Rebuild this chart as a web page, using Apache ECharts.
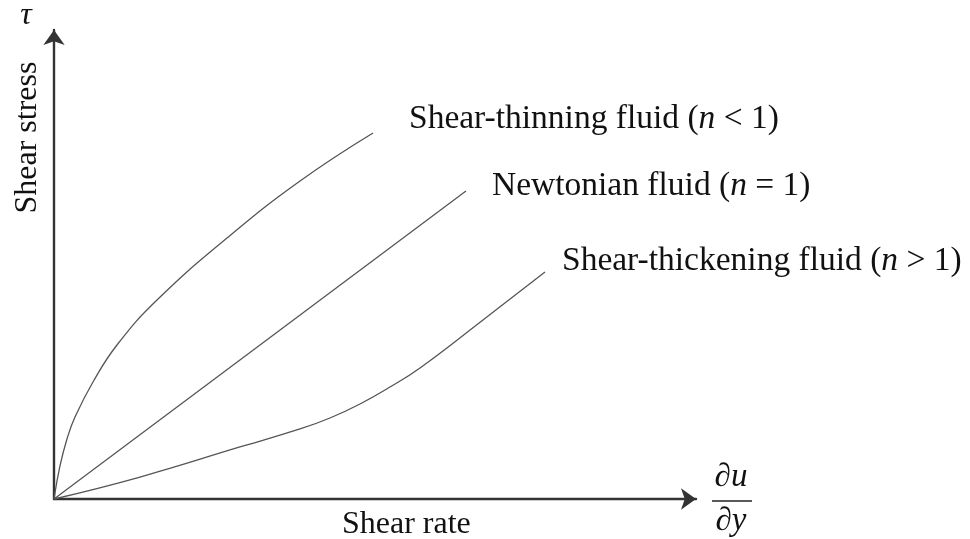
<!DOCTYPE html>
<html>
<head>
<meta charset="utf-8">
<script src="https://cdn.jsdelivr.net/npm/echarts@6/dist/echarts.min.js"></script>
<style>
html,body{margin:0;padding:0;background:#fff;}
#chart{width:970px;height:539px;}
</style>
</head>
<body>
<div id="chart"></div>
<script>
// Data (arbitrary units: shear rate 0..10, shear stress 0..10)
const shearThinningX = [0, 0.093, 0.202, 0.327, 0.607, 0.981, 1.604, 2.695, 3.832, 4.969];
const shearThinningY = [0, 0.704, 1.279, 1.748, 2.495, 3.284, 4.243, 5.565, 6.780, 7.804];
const newtonianX = [0, 6.417];
const newtonianY = [0, 6.567];
const shearThickeningX = [0, 1.340, 2.897, 3.832, 4.299, 4.766, 5.234, 5.701, 6.682, 7.648];
const shearThickeningY = [0, 0.469, 1.109, 1.493, 1.727, 2.026, 2.388, 2.793, 3.817, 4.840];
const seriesNames = ['Shear-thinning fluid', 'Newtonian fluid', 'Shear-thickening fluid'];
const nLabels = ['< 1', '= 1', '> 1'];
const xAxisName = 'Shear rate';
const yAxisName = 'Shear stress';

const zip = (xs, ys) => xs.map((x, i) => [x, ys[i]]);
const serif = '"Liberation Serif", "Times New Roman", serif';
const textColor = '#111';

const chart = echarts.init(document.getElementById('chart'), null, {renderer: 'canvas'});

function labelText(i, left, midY) {
  return {
    type: 'text',
    x: left, y: midY,
    style: {
      rich: {
        a: {fontFamily: serif, fontSize: 33.5, fill: textColor},
        i: {fontFamily: serif, fontSize: 33.5, fontStyle: 'italic', fill: textColor}
      },
      text: '{a|' + seriesNames[i] + ' (}{i|n}{a| ' + nLabels[i] + ')}',
      verticalAlign: 'middle',
      fill: textColor
    }
  };
}

const lineStyle = {color: '#555', width: 1.3};

chart.setOption({
  animation: false,
  backgroundColor: '#fff',
  grid: {left: 54, right: 274, top: 30, bottom: 40, containLabel: false},
  xAxis: {
    type: 'value', min: 0, max: 10,
    axisLine: {show: true, onZero: false, symbol: ['none', 'arrow'], symbolSize: [16, 15], lineStyle: {color: '#333', width: 2.4}},
    axisTick: {show: false}, axisLabel: {show: false}, splitLine: {show: false}
  },
  yAxis: {
    type: 'value', min: 0, max: 10,
    axisLine: {show: true, onZero: false, symbol: ['none', 'arrow'], symbolSize: [16, 15], lineStyle: {color: '#333', width: 2.4}},
    axisTick: {show: false}, axisLabel: {show: false}, splitLine: {show: false}
  },
  series: [
    {type: 'line', name: seriesNames[0], data: zip(shearThinningX, shearThinningY), smooth: 0.45, showSymbol: false, lineStyle: lineStyle},
    {type: 'line', name: seriesNames[1], data: zip(newtonianX, newtonianY), showSymbol: false, lineStyle: lineStyle},
    {type: 'line', name: seriesNames[2], data: zip(shearThickeningX, shearThickeningY), smooth: 0.45, showSymbol: false, lineStyle: lineStyle}
  ],
  graphic: [
    labelText(0, 409, 119),
    labelText(1, 492, 186),
    labelText(2, 562, 261),
    {
      type: 'text', x: 342, y: 525,
      style: {text: xAxisName, fontFamily: serif, fontSize: 32, fill: textColor, verticalAlign: 'middle'}
    },
    {
      type: 'text', x: 28, y: 137.5, rotation: Math.PI / 2,
      style: {text: yAxisName, fontFamily: serif, fontSize: 32, fill: textColor, align: 'center', verticalAlign: 'middle'}
    },
    {
      type: 'text', x: 26, y: 16,
      style: {text: 'τ', fontFamily: serif, fontSize: 32, fontStyle: 'italic', fill: textColor, align: 'center', verticalAlign: 'middle'}
    },
    {
      type: 'text', x: 731, y: 477,
      style: {text: '∂u', fontFamily: serif, fontSize: 33, fontStyle: 'italic', fill: textColor, align: 'center', verticalAlign: 'middle'}
    },
    {
      type: 'line', shape: {x1: 712, y1: 501, x2: 752, y2: 501},
      style: {stroke: '#222', lineWidth: 1.5}
    },
    {
      type: 'text', x: 731, y: 521,
      style: {text: '∂y', fontFamily: serif, fontSize: 33, fontStyle: 'italic', fill: textColor, align: 'center', verticalAlign: 'middle'}
    }
  ]
});
</script>
</body>
</html>
